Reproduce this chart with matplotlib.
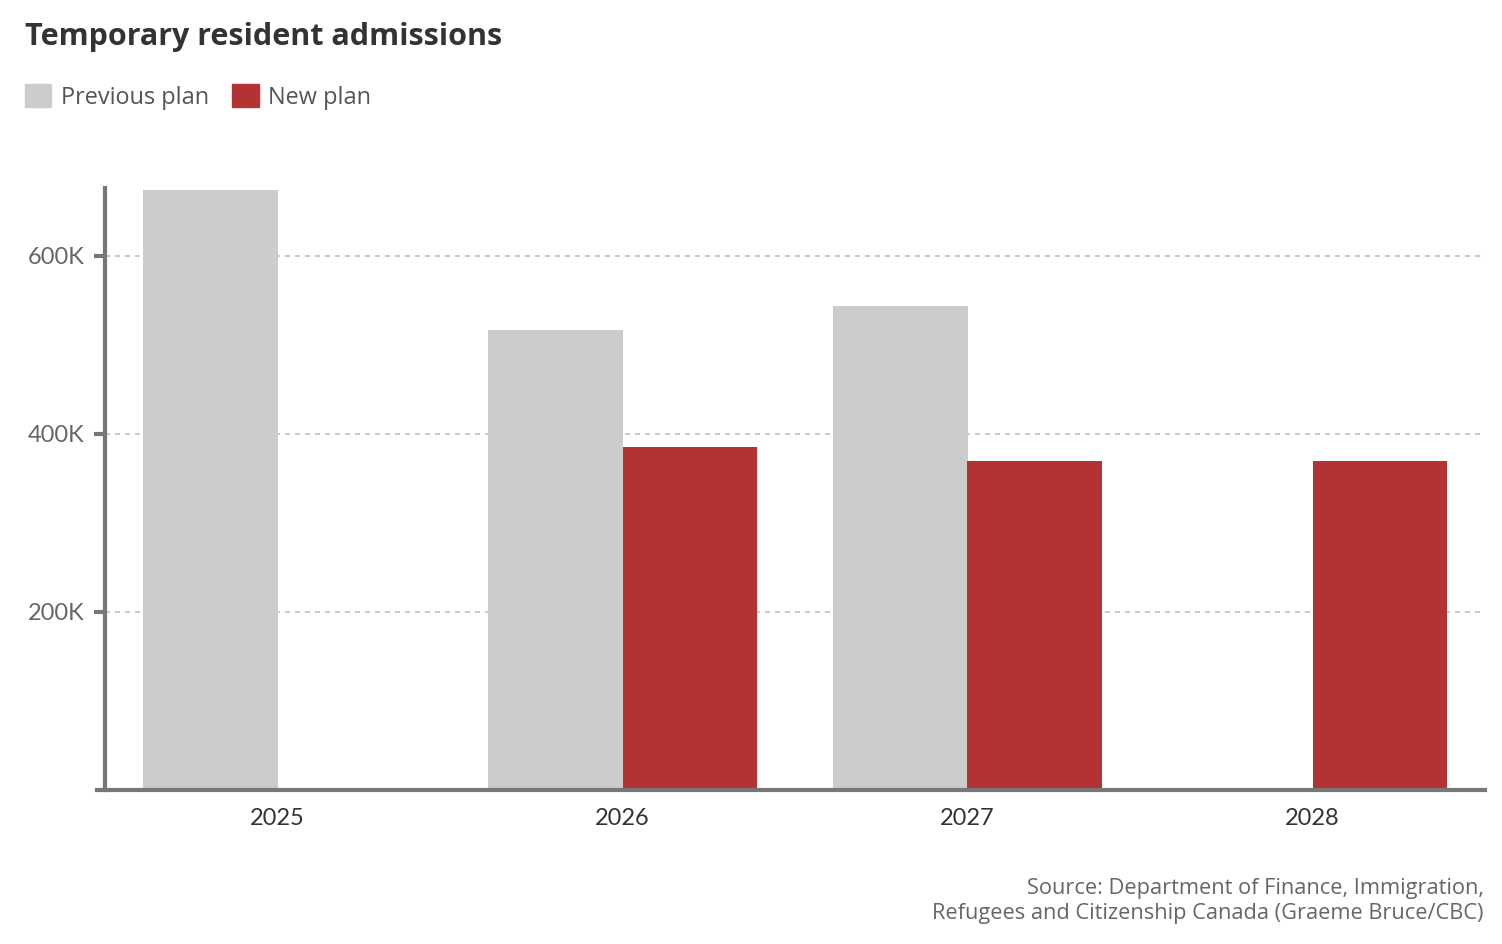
import matplotlib.pyplot as plt
from matplotlib.patches import Patch
from matplotlib.ticker import FuncFormatter
import numpy as np

# data
years = ["2025", "2026", "2027", "2028"]
previous_plan = [673650, 516600, 543600, 0]
new_plan = [0, 385000, 370000, 370000]
y_ticks = [200000, 400000, 600000]

grey = "#cccccc"
red = "#b33234"

fig = plt.figure(figsize=(15.02, 9.44), dpi=100)
ax = fig.add_axes([105 / 1502, 1 - 790 / 944, 1380 / 1502, 602 / 944])

x = np.arange(len(years))
w = 0.39
ax.bar(x - w / 2, previous_plan, w, color=grey, zorder=2)
ax.bar(x + w / 2, new_plan, w, color=red, zorder=2)

ax.set_xlim(-0.5, 3.5)
ax.set_ylim(0, 676000)
ax.set_xticks(x)
ax.set_xticklabels(years, fontfamily="Lato", fontsize=17, color="#333333")
ax.set_yticks(y_ticks)
ax.yaxis.set_major_formatter(FuncFormatter(lambda v, p: f"{int(v / 1000)}K"))
for lab in ax.get_yticklabels():
    lab.set_fontfamily("Lato")
    lab.set_fontsize(17)
    lab.set_color("#666666")

ax.tick_params(axis="x", length=0, pad=13)
ax.tick_params(axis="y", length=8, width=3, color="#777777", pad=7)
ax.grid(axis="y", color="#b9c1c9", linestyle=(0, (3, 3)), linewidth=1.2, zorder=0)

for s in ["top", "right"]:
    ax.spines[s].set_visible(False)
ax.spines["left"].set_color("#777777")
ax.spines["left"].set_linewidth(3)
ax.spines["bottom"].set_visible(False)
ax.axhline(0, xmin=-0.006, xmax=1, color="#777777", linewidth=3, clip_on=False, zorder=3)

fig.text(25 / 1502, 1 - 37 / 944, "Temporary resident admissions", fontfamily="Open Sans",
         fontweight="bold", fontsize=22, color="#333333", va="center", ha="left")

handles = [Patch(color=grey, label="Previous plan"), Patch(color=red, label="New plan")]
fig.legend(handles=handles, loc="center left", bbox_to_anchor=(4 / 1502, 1 - 97 / 944),
           ncol=2, frameon=False, prop={"family": "Open Sans", "size": 16.9},
           handlelength=1.12, handleheight=1.12, handletextpad=0.4, columnspacing=1.0,
           labelcolor="#555555")

fig.text(1484 / 1502, 1 - 901 / 944,
         "Source: Department of Finance, Immigration,\nRefugees and Citizenship Canada (Graeme Bruce/CBC)",
         fontfamily="Open Sans", fontsize=15.7, color="#666666", ha="right", va="center",
         linespacing=1.2)

fig.savefig("out.png", dpi=100)
